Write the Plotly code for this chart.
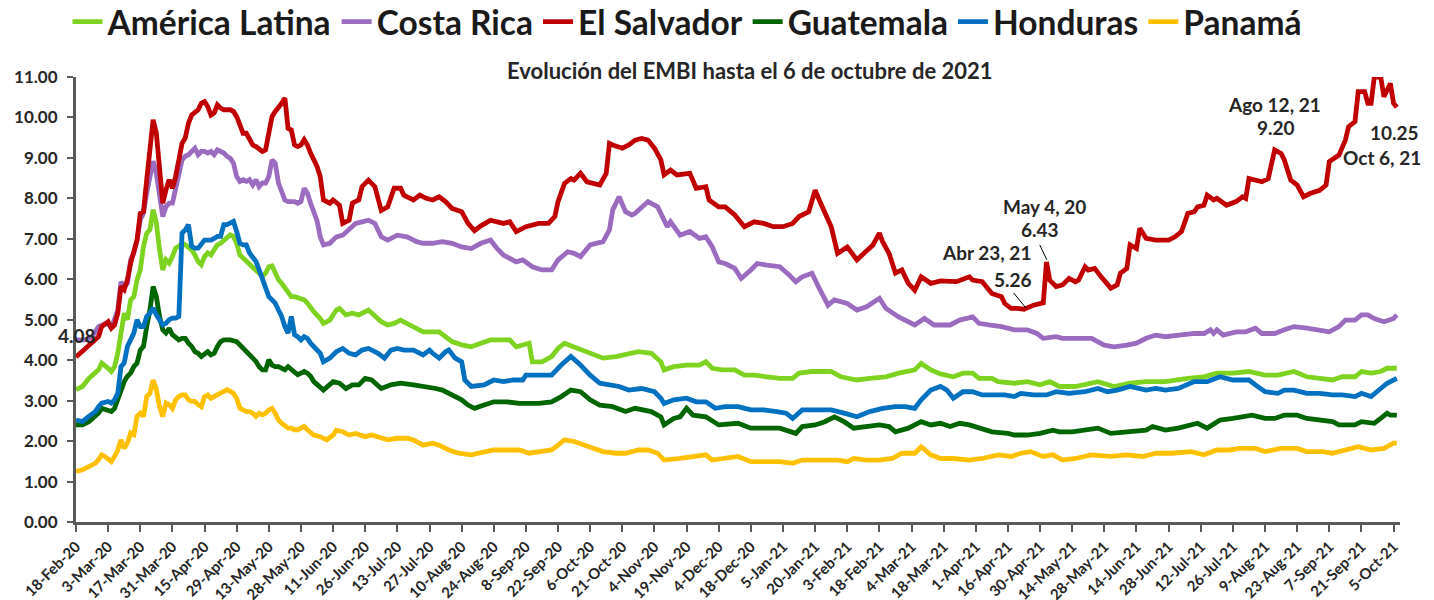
import plotly.graph_objects as go

# ---- tick labels (every 10th trading day) ----
tick_labels = ["18-Feb-20", "3-Mar-20", "17-Mar-20", "31-Mar-20", "15-Apr-20", "29-Apr-20",
               "13-May-20", "28-May-20", "11-Jun-20", "26-Jun-20", "13-Jul-20", "27-Jul-20",
               "10-Aug-20", "24-Aug-20", "8-Sep-20", "22-Sep-20", "6-Oct-20", "21-Oct-20",
               "4-Nov-20", "19-Nov-20", "4-Dec-20", "18-Dec-20", "5-Jan-21", "20-Jan-21",
               "3-Feb-21", "18-Feb-21", "4-Mar-21", "18-Mar-21", "1-Apr-21", "16-Apr-21",
               "30-Apr-21", "14-May-21", "28-May-21", "14-Jun-21", "28-Jun-21", "12-Jul-21",
               "26-Jul-21", "9-Aug-21", "23-Aug-21", "7-Sep-21", "21-Sep-21", "5-Oct-21"]
tick_idx = [10 * k for k in range(len(tick_labels))]

# ---- series: trading-day index and EMBI value ----
x_es = [0, 3, 5, 7, 8, 10, 11, 12, 13, 14, 15, 16, 17, 18, 19, 20, 21, 22, 23, 24, 25, 26, 27, 28, 29, 30,
        31, 32, 33, 34, 35, 36, 37, 38, 39, 40, 41, 42, 43, 44, 45, 46, 47, 48, 49, 50, 51, 52, 53, 54, 55,
        56, 57, 58, 59, 60, 61, 62, 63, 64, 65, 66, 67, 68, 69, 70, 71, 72, 73, 74, 75, 76, 77, 79, 80, 82,
        83, 85, 86, 88, 89, 91, 93, 95, 97, 99, 101, 102, 105, 107, 109, 111, 113, 115, 117, 120, 122, 124,
        126, 129, 133, 135, 137, 140, 144, 147, 149, 150, 152, 154, 155, 157, 159, 163, 165, 166, 167, 170,
        172, 174, 176, 178, 180, 182, 183, 185, 187, 191, 193, 196, 197, 200, 202, 205, 208, 211, 214, 217,
        220, 223, 225, 228, 230, 232, 234, 235, 237, 240, 243, 246, 248, 250, 251, 253, 255, 257, 259, 261,
        263, 266, 269, 274, 278, 279, 282, 285, 288, 289, 291, 293, 295, 298, 300, 301, 302, 303, 305, 307,
        309, 311, 312, 314, 315, 317, 319, 321, 322, 324, 325, 327, 328, 330, 331, 333, 336, 340, 342, 344,
        346, 348, 349, 351, 352, 354, 355, 358, 361, 363, 364, 365, 369, 371, 373, 375, 376, 378, 380, 382,
        384, 387, 389, 390, 393, 395, 396, 398, 399, 401, 402, 403, 404, 406, 407, 409, 410, 411]
y_es = [4.08, 4.30, 4.46, 4.58, 4.83, 4.95, 4.79, 4.87, 5.16, 5.82, 5.74, 5.99, 6.40, 6.65, 6.97, 7.63, 7.67,
        8.46, 9.20, 9.94, 9.61, 8.62, 7.88, 8.21, 8.46, 8.25, 8.54, 8.95, 9.36, 9.49, 9.86, 10.06, 10.11,
        10.19, 10.35, 10.39, 10.27, 10.06, 10.11, 10.31, 10.23, 10.19, 10.19, 10.19, 10.15, 10.02, 9.82,
        9.61, 9.61, 9.45, 9.32, 9.28, 9.20, 9.16, 9.20, 9.61, 10.02, 10.15, 10.23, 10.35, 10.48, 9.73, 9.69,
        9.32, 9.28, 9.32, 9.45, 9.32, 9.12, 8.95, 8.79, 8.54, 7.96, 7.88, 7.96, 7.83, 7.38, 7.46, 7.88, 7.96,
        8.29, 8.45, 8.29, 7.70, 7.79, 8.25, 8.25, 8.08, 7.96, 8.08, 8.00, 7.96, 8.04, 7.92, 7.75, 7.67, 7.38,
        7.20, 7.32, 7.46, 7.38, 7.42, 7.18, 7.30, 7.38, 7.38, 7.55, 7.92, 8.37, 8.49, 8.45, 8.62, 8.41, 8.33,
        8.62, 9.36, 9.32, 9.24, 9.32, 9.44, 9.48, 9.44, 9.24, 8.95, 8.58, 8.70, 8.58, 8.62, 8.25, 8.29, 7.96,
        7.79, 7.79, 7.59, 7.30, 7.42, 7.38, 7.30, 7.30, 7.38, 7.55, 7.67, 8.20, 7.83, 7.46, 7.30, 6.64, 6.80,
        6.48, 6.68, 6.85, 7.14, 6.93, 6.64, 6.15, 6.23, 5.90, 5.73, 6.06, 5.90, 5.96, 5.94, 6.06, 5.98, 5.94,
        5.65, 5.57, 5.40, 5.28, 5.28, 5.26, 5.36, 5.40, 5.42, 6.43, 5.98, 5.82, 5.86, 6.02, 5.94, 5.98, 6.31,
        6.23, 6.27, 6.06, 5.90, 5.78, 5.86, 6.15, 6.27, 6.85, 6.76, 7.26, 7.01, 6.97, 6.97, 7.05, 7.18, 7.63,
        7.67, 7.79, 7.83, 8.08, 7.96, 8.00, 7.83, 7.92, 8.04, 8.00, 8.49, 8.41, 8.49, 9.20, 9.11, 8.95, 8.45,
        8.33, 8.04, 8.12, 8.20, 8.33, 8.91, 9.07, 9.44, 9.77, 9.90, 10.64, 10.64, 10.35, 10.35, 11.00, 11.00,
        10.51, 10.84, 10.35, 10.25]

x_cr = [0, 3, 5, 7, 9, 10, 11, 12, 13, 14, 15, 16, 17, 18, 19, 20, 21, 22, 23, 24, 25, 26, 27, 28, 29, 30,
        31, 32, 33, 34, 35, 36, 37, 38, 39, 40, 41, 42, 43, 44, 45, 46, 47, 48, 49, 50, 51, 52, 53, 54, 55,
        56, 57, 58, 59, 60, 61, 62, 63, 64, 65, 66, 68, 69, 70, 71, 72, 73, 74, 75, 76, 77, 79, 81, 83, 85,
        87, 89, 91, 93, 95, 97, 100, 103, 106, 108, 111, 114, 117, 120, 123, 126, 129, 131, 133, 137, 139,
        142, 145, 148, 150, 153, 155, 157, 160, 164, 166, 167, 169, 171, 173, 174, 176, 178, 181, 182, 184,
        185, 188, 191, 194, 196, 198, 200, 202, 205, 207, 210, 212, 215, 219, 222, 224, 226, 229, 231, 234,
        236, 240, 243, 246, 250, 252, 256, 261, 264, 267, 272, 275, 279, 281, 284, 288, 292, 296, 299, 301,
        305, 307, 312, 316, 320, 323, 327, 330, 333, 336, 339, 343, 348, 351, 353, 354, 355, 357, 361, 364,
        367, 369, 373, 376, 379, 383, 387, 390, 393, 395, 398, 400, 402, 404, 407, 410, 411]
y_cr = [4.50, 4.50, 4.58, 4.83, 4.90, 4.90, 4.79, 4.99, 5.24, 5.94, 5.82, 5.90, 6.48, 6.65, 6.97, 7.47, 7.63,
        8.13, 8.54, 8.92, 8.62, 8.05, 7.55, 7.80, 7.88, 7.88, 8.21, 8.54, 8.95, 9.04, 9.08, 9.16, 9.24, 9.08,
        9.16, 9.16, 9.12, 9.16, 9.08, 9.20, 9.16, 9.12, 9.04, 8.99, 8.87, 8.54, 8.42, 8.46, 8.42, 8.46, 8.33,
        8.46, 8.29, 8.38, 8.38, 8.54, 8.95, 8.87, 8.38, 8.13, 7.96, 7.92, 7.92, 7.88, 7.92, 8.25, 8.13, 7.88,
        7.63, 7.45, 7.05, 6.85, 6.89, 7.05, 7.09, 7.22, 7.38, 7.42, 7.46, 7.38, 7.05, 6.97, 7.09, 7.05, 6.93,
        6.89, 6.89, 6.93, 6.89, 6.80, 6.76, 6.89, 6.97, 6.76, 6.60, 6.43, 6.48, 6.31, 6.23, 6.23, 6.48, 6.68,
        6.64, 6.56, 6.85, 6.93, 7.22, 7.71, 8.04, 7.67, 7.59, 7.63, 7.79, 7.92, 7.79, 7.63, 7.30, 7.42, 7.09,
        7.18, 7.01, 7.05, 6.80, 6.43, 6.39, 6.27, 6.02, 6.23, 6.39, 6.35, 6.31, 6.10, 5.94, 6.06, 6.15, 5.82,
        5.36, 5.49, 5.40, 5.24, 5.32, 5.53, 5.28, 5.07, 4.87, 5.03, 4.87, 4.87, 4.99, 5.07, 4.91, 4.87, 4.83,
        4.75, 4.75, 4.66, 4.54, 4.58, 4.54, 4.54, 4.54, 4.37, 4.33, 4.37, 4.42, 4.54, 4.62, 4.58, 4.62, 4.66,
        4.66, 4.75, 4.66, 4.75, 4.62, 4.70, 4.70, 4.79, 4.66, 4.66, 4.75, 4.83, 4.79, 4.75, 4.70, 4.83, 4.99,
        4.99, 5.12, 5.12, 5.03, 4.95, 5.03, 5.12]

x_al = [0, 2, 4, 6, 7, 8, 9, 10, 11, 12, 13, 14, 15, 16, 17, 18, 19, 20, 21, 22, 23, 24, 25, 26, 27, 28, 29,
        30, 31, 32, 33, 34, 35, 36, 37, 38, 39, 40, 41, 42, 43, 44, 45, 46, 47, 48, 49, 50, 51, 52, 53, 54,
        55, 56, 57, 58, 59, 60, 61, 62, 63, 64, 65, 66, 67, 68, 70, 71, 72, 73, 74, 76, 77, 79, 81, 82, 84,
        86, 88, 91, 92, 95, 97, 99, 101, 103, 105, 108, 110, 113, 115, 117, 120, 123, 126, 129, 131, 135,
        137, 139, 141, 142, 145, 148, 150, 152, 155, 158, 161, 164, 168, 171, 175, 179, 182, 183, 186, 190,
        194, 196, 198, 201, 205, 208, 211, 215, 219, 223, 225, 229, 235, 238, 243, 247, 252, 256, 261, 263,
        266, 269, 273, 276, 279, 281, 285, 287, 292, 296, 300, 303, 306, 311, 318, 323, 328, 333, 339, 346,
        351, 355, 360, 365, 370, 374, 379, 383, 387, 391, 394, 398, 400, 403, 406, 408, 411]
y_al = [3.27, 3.35, 3.55, 3.68, 3.76, 3.93, 3.88, 3.80, 3.72, 3.84, 4.17, 4.67, 5.16, 5.00, 5.49, 5.57, 5.99,
        6.23, 6.81, 7.14, 7.22, 7.72, 7.39, 6.73, 6.23, 6.48, 6.40, 6.56, 6.77, 6.81, 6.89, 6.85, 6.77, 6.73,
        6.60, 6.44, 6.36, 6.56, 6.65, 6.60, 6.73, 6.85, 6.89, 6.97, 7.06, 7.10, 7.06, 6.89, 6.60, 6.52, 6.44,
        6.36, 6.31, 6.23, 6.15, 6.07, 6.15, 6.31, 6.33, 6.15, 5.99, 5.90, 5.78, 5.66, 5.57, 5.57, 5.53, 5.49,
        5.41, 5.29, 5.20, 5.03, 4.91, 4.99, 5.24, 5.28, 5.12, 5.16, 5.12, 5.24, 5.16, 4.95, 4.87, 4.91, 4.99,
        4.91, 4.83, 4.70, 4.70, 4.70, 4.58, 4.46, 4.38, 4.33, 4.42, 4.50, 4.50, 4.50, 4.33, 4.37, 4.42, 3.96,
        3.96, 4.09, 4.29, 4.42, 4.33, 4.25, 4.13, 4.05, 4.09, 4.13, 4.21, 4.17, 3.96, 3.76, 3.84, 3.88, 3.88,
        3.96, 3.80, 3.76, 3.76, 3.63, 3.63, 3.59, 3.55, 3.55, 3.68, 3.72, 3.72, 3.59, 3.51, 3.55, 3.59, 3.68,
        3.76, 3.92, 3.76, 3.66, 3.59, 3.68, 3.68, 3.55, 3.55, 3.47, 3.43, 3.47, 3.39, 3.47, 3.35, 3.35, 3.47,
        3.35, 3.43, 3.47, 3.47, 3.55, 3.59, 3.68, 3.68, 3.72, 3.63, 3.63, 3.72, 3.59, 3.55, 3.51, 3.59, 3.59,
        3.72, 3.68, 3.72, 3.80, 3.80]

x_ho = [0, 2, 4, 6, 7, 8, 10, 11, 12, 13, 14, 15, 16, 17, 18, 19, 20, 21, 22, 23, 24, 25, 26, 27, 28, 29, 30,
        31, 32, 33, 34, 35, 36, 37, 38, 39, 40, 41, 42, 43, 44, 45, 46, 47, 48, 49, 50, 51, 52, 53, 54, 55,
        56, 57, 58, 59, 60, 61, 62, 63, 64, 65, 66, 67, 68, 69, 70, 71, 72, 73, 74, 76, 77, 79, 81, 83, 85,
        87, 89, 91, 94, 96, 98, 100, 102, 105, 108, 110, 111, 113, 115, 116, 118, 120, 121, 123, 127, 130,
        133, 136, 139, 140, 144, 148, 151, 154, 157, 160, 163, 166, 169, 172, 176, 180, 182, 183, 186, 190,
        193, 196, 199, 202, 206, 210, 214, 218, 221, 223, 226, 230, 235, 239, 243, 247, 251, 255, 258, 261,
        263, 266, 269, 271, 273, 276, 279, 282, 285, 289, 292, 294, 298, 302, 305, 309, 314, 318, 321, 324,
        328, 331, 333, 336, 339, 343, 348, 352, 356, 360, 365, 367, 370, 374, 376, 379, 383, 387, 391, 394,
        398, 400, 403, 406, 408, 411]
y_ho = [2.52, 2.48, 2.61, 2.73, 2.85, 2.94, 2.98, 2.94, 3.02, 3.18, 3.84, 3.93, 4.34, 4.50, 4.67, 5.00, 4.83,
        4.83, 5.08, 5.16, 5.29, 5.12, 5.00, 4.87, 4.91, 5.00, 5.04, 5.04, 5.08, 7.14, 7.22, 7.35, 6.81, 6.77,
        6.77, 6.85, 6.97, 6.97, 6.97, 7.01, 7.06, 7.06, 7.35, 7.35, 7.39, 7.43, 7.18, 6.89, 6.85, 6.85, 6.65,
        6.52, 6.44, 6.23, 5.99, 5.78, 5.57, 5.49, 5.41, 5.24, 5.08, 4.83, 4.67, 5.08, 4.63, 4.58, 4.50, 4.58,
        4.54, 4.42, 4.34, 4.17, 3.96, 4.05, 4.21, 4.29, 4.17, 4.13, 4.25, 4.29, 4.17, 4.05, 4.25, 4.29, 4.25,
        4.25, 4.13, 4.25, 4.17, 4.05, 4.21, 4.25, 4.05, 3.96, 3.51, 3.35, 3.39, 3.51, 3.47, 3.51, 3.51, 3.63,
        3.63, 3.63, 3.88, 4.09, 3.88, 3.63, 3.43, 3.39, 3.35, 3.26, 3.30, 3.22, 3.06, 2.93, 3.02, 3.06, 2.97,
        2.97, 2.81, 2.85, 2.85, 2.77, 2.77, 2.73, 2.69, 2.56, 2.77, 2.77, 2.77, 2.69, 2.60, 2.73, 2.81, 2.85,
        2.85, 2.81, 3.02, 3.26, 3.35, 3.26, 3.06, 3.22, 3.22, 3.14, 3.14, 3.14, 3.10, 3.18, 3.14, 3.14, 3.22,
        3.18, 3.22, 3.30, 3.22, 3.26, 3.35, 3.30, 3.26, 3.30, 3.26, 3.30, 3.47, 3.47, 3.59, 3.51, 3.51, 3.39,
        3.22, 3.18, 3.26, 3.26, 3.18, 3.18, 3.14, 3.14, 3.10, 3.18, 3.10, 3.30, 3.43, 3.55]

x_gu = [0, 2, 4, 6, 7, 8, 10, 11, 12, 13, 14, 15, 16, 17, 18, 19, 20, 21, 22, 23, 24, 25, 26, 27, 28, 29, 30,
        31, 32, 33, 34, 35, 36, 37, 38, 39, 40, 41, 42, 43, 44, 45, 46, 48, 50, 51, 52, 53, 54, 55, 56, 57,
        58, 59, 60, 61, 62, 63, 64, 65, 66, 67, 68, 69, 70, 71, 72, 73, 74, 76, 77, 80, 82, 84, 86, 88, 90,
        92, 95, 98, 101, 105, 109, 112, 114, 117, 120, 122, 124, 127, 130, 134, 138, 144, 148, 151, 154,
        157, 160, 163, 167, 171, 174, 179, 182, 183, 186, 188, 190, 192, 196, 200, 206, 210, 215, 219, 224,
        226, 230, 233, 236, 239, 242, 246, 250, 253, 255, 259, 263, 266, 269, 272, 275, 278, 281, 285, 290,
        292, 296, 300, 304, 306, 310, 314, 318, 322, 326, 330, 333, 335, 339, 343, 349, 352, 356, 360, 366,
        370, 373, 376, 380, 383, 388, 391, 393, 398, 400, 404, 406, 408, 409, 411]
y_gu = [2.40, 2.40, 2.48, 2.61, 2.69, 2.81, 2.77, 2.73, 2.81, 3.02, 3.27, 3.47, 3.60, 3.68, 3.84, 3.93, 4.25,
        4.34, 4.83, 5.24, 5.82, 5.57, 5.08, 4.75, 4.67, 4.79, 4.63, 4.58, 4.50, 4.54, 4.54, 4.42, 4.34, 4.21,
        4.17, 4.09, 4.17, 4.21, 4.13, 4.17, 4.34, 4.46, 4.50, 4.50, 4.46, 4.38, 4.30, 4.21, 4.13, 4.09, 3.97,
        3.84, 3.76, 3.76, 4.01, 3.88, 3.84, 3.84, 3.80, 3.76, 3.84, 3.76, 3.68, 3.64, 3.68, 3.72, 3.68, 3.60,
        3.47, 3.35, 3.26, 3.47, 3.43, 3.30, 3.39, 3.39, 3.55, 3.51, 3.30, 3.39, 3.43, 3.39, 3.35, 3.30, 3.26,
        3.14, 3.02, 2.89, 2.81, 2.89, 2.97, 2.97, 2.93, 2.93, 2.97, 3.10, 3.26, 3.22, 3.02, 2.89, 2.85, 2.73,
        2.81, 2.73, 2.60, 2.40, 2.56, 2.60, 2.81, 2.64, 2.60, 2.40, 2.44, 2.32, 2.32, 2.32, 2.19, 2.36, 2.40,
        2.48, 2.60, 2.48, 2.32, 2.36, 2.40, 2.36, 2.23, 2.32, 2.48, 2.40, 2.44, 2.36, 2.44, 2.40, 2.32, 2.23,
        2.19, 2.15, 2.15, 2.19, 2.27, 2.23, 2.23, 2.27, 2.32, 2.19, 2.23, 2.27, 2.27, 2.36, 2.27, 2.32, 2.44,
        2.32, 2.52, 2.56, 2.64, 2.56, 2.56, 2.64, 2.64, 2.56, 2.52, 2.48, 2.40, 2.40, 2.48, 2.44, 2.56, 2.69,
        2.64, 2.64]

x_pa = [0, 2, 4, 6, 7, 8, 9, 10, 11, 12, 13, 14, 15, 16, 17, 18, 19, 20, 21, 22, 23, 24, 25, 26, 27, 28, 29,
        30, 31, 32, 33, 34, 35, 36, 37, 38, 39, 40, 41, 42, 43, 44, 45, 46, 47, 48, 49, 50, 51, 52, 53, 54,
        55, 56, 57, 58, 59, 60, 61, 62, 63, 64, 65, 66, 67, 68, 69, 70, 71, 72, 73, 74, 76, 78, 80, 81, 83,
        85, 87, 90, 92, 97, 100, 103, 105, 108, 111, 113, 116, 119, 123, 127, 130, 134, 138, 141, 144, 148,
        150, 152, 155, 158, 161, 164, 168, 171, 175, 178, 181, 183, 188, 192, 196, 198, 202, 206, 210, 215,
        219, 223, 226, 231, 237, 240, 242, 246, 250, 254, 257, 261, 263, 266, 269, 273, 278, 282, 287, 291,
        294, 297, 301, 304, 307, 311, 316, 322, 327, 332, 336, 341, 347, 351, 355, 359, 362, 367, 370, 375,
        380, 383, 388, 391, 395, 399, 403, 407, 410, 411]
y_pa = [1.25, 1.29, 1.37, 1.45, 1.54, 1.66, 1.62, 1.54, 1.49, 1.62, 1.78, 2.03, 1.82, 1.95, 2.20, 2.16, 2.61,
        2.69, 2.61, 3.10, 3.18, 3.51, 3.27, 2.85, 2.61, 2.94, 2.90, 2.81, 3.02, 3.10, 3.14, 3.14, 3.02, 2.98,
        2.98, 2.90, 2.85, 3.10, 3.14, 3.06, 3.10, 3.14, 3.18, 3.23, 3.27, 3.23, 3.18, 3.06, 2.81, 2.77, 2.73,
        2.73, 2.69, 2.61, 2.69, 2.65, 2.69, 2.77, 2.81, 2.69, 2.52, 2.44, 2.36, 2.32, 2.32, 2.28, 2.28, 2.32,
        2.36, 2.28, 2.20, 2.15, 2.11, 2.03, 2.15, 2.27, 2.23, 2.15, 2.19, 2.11, 2.15, 2.03, 2.07, 2.07, 2.03,
        1.90, 1.95, 1.90, 1.78, 1.70, 1.66, 1.74, 1.78, 1.78, 1.78, 1.70, 1.74, 1.78, 1.90, 2.03, 1.99, 1.90,
        1.82, 1.74, 1.70, 1.70, 1.78, 1.78, 1.70, 1.53, 1.57, 1.62, 1.66, 1.53, 1.57, 1.62, 1.49, 1.49, 1.49,
        1.45, 1.53, 1.53, 1.53, 1.49, 1.57, 1.53, 1.53, 1.57, 1.70, 1.70, 1.86, 1.66, 1.57, 1.57, 1.53, 1.57,
        1.66, 1.62, 1.70, 1.74, 1.62, 1.66, 1.53, 1.57, 1.66, 1.62, 1.66, 1.62, 1.70, 1.70, 1.74, 1.66, 1.78,
        1.78, 1.82, 1.82, 1.74, 1.82, 1.82, 1.74, 1.74, 1.70, 1.78, 1.86, 1.78, 1.82, 1.95, 1.95]

series = [
    ("América Latina", x_al, y_al, "#7ED321"),
    ("Costa Rica", x_cr, y_cr, "#9A6BBE"),
    ("El Salvador", x_es, y_es, "#C00000"),
    ("Guatemala", x_gu, y_gu, "#006400"),
    ("Honduras", x_ho, y_ho, "#0070C0"),
    ("Panamá", x_pa, y_pa, "#FFC000"),
]

FONT = "Lato"
TXT = "#262626"
AX = "#595959"

fig = go.Figure()
for name, xs, ys, col in series:
    fig.add_trace(go.Scatter(x=xs, y=ys, name=name, mode="lines",
                             line=dict(color=col, width=4.8), hoverinfo="skip"))

ann_font = dict(family=FONT, size=19, color=TXT, weight="bold")
notes = [
    (0.3, 4.62, "4.08"),
    (283.4, 6.67, "Abr 23, 21"),
    (291.5, 6.00, "5.26"),
    (301.5, 7.81, "May 4, 20"),
    (299.9, 7.24, "6.43"),
    (373.0, 10.31, "Ago 12, 21"),
    (373.3, 9.74, "9.20"),
    (410.4, 9.64, "10.25"),
    (406.4, 9.02, "Oct 6, 21"),
]
annotations = [dict(x=x, y=y, xref="x", yref="y", text=t, showarrow=False,
                    font=ann_font, xanchor="center", yanchor="middle") for x, y, t in notes]
annotations.append(dict(text="Evolución del EMBI hasta el 6 de octubre de 2021",
                        x=0.509, xref="paper", y=1.0157, yref="paper",
                        xanchor="center", yanchor="middle", showarrow=False,
                        font=dict(family=FONT, size=22, color=TXT, weight="bold")))

shapes = [
    dict(type="line", xref="x", yref="y", x0=291.8, y0=5.66, x1=295.6, y1=5.29,
         line=dict(color="#000000", width=1)),
    dict(type="line", xref="x", yref="y", x0=299.9, y0=6.85, x1=302.1, y1=6.48,
         line=dict(color="#000000", width=1)),
]

# the page body adds an 8px offset, so the figure is sized to fill the window exactly
fig.update_layout(
    width=1426, height=592,
    margin=dict(l=68, r=34, t=69, b=78, autoexpand=False),
    paper_bgcolor="white", plot_bgcolor="white",
    font=dict(family=FONT, color=TXT),
    showlegend=True,
    legend=dict(orientation="h", x=0.4615, xanchor="center", y=1.124, yanchor="middle",
                font=dict(family=FONT, size=33.5, color="#1a1a1a", weight="bold"),
                itemwidth=30, bgcolor="rgba(0,0,0,0)", tracegroupgap=0),
    annotations=annotations,
    shapes=shapes,
    xaxis=dict(range=[0, 412], tickmode="array", tickvals=tick_idx, ticktext=tick_labels,
               tickangle=-45, tickfont=dict(family=FONT, size=15, color=TXT, weight="bold"),
               showline=True, linecolor=AX, linewidth=3, ticks="outside", ticklen=7,
               tickwidth=2, tickcolor=AX, showgrid=False, zeroline=False, automargin=False),
    yaxis=dict(range=[0, 11], tickmode="linear", tick0=0, dtick=1, tickformat=".2f",
               tickfont=dict(family=FONT, size=17, color=TXT, weight="bold"),
               showline=True, linecolor=AX, linewidth=3, ticks="outside", ticklen=6,
               tickwidth=2, tickcolor=AX, showgrid=False, zeroline=False, ticklabelstandoff=6,
               automargin=False),
)

fig.write_html("out.html")
